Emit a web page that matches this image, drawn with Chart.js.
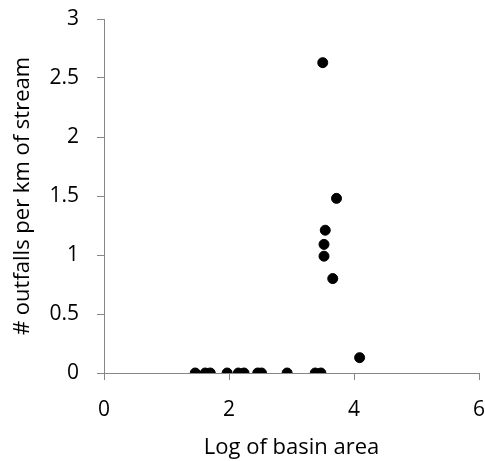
<!DOCTYPE html>
<html>
<head>
<meta charset="utf-8">
<script src="https://cdn.jsdelivr.net/npm/chart.js@4"></script>
<style>
  html, body { margin: 0; padding: 0; background: #fff; }
  #wrap { width: 485px; height: 461px; }
</style>
</head>
<body>
<div id="wrap"><canvas id="outfalls"></canvas></div>
<script>
// Log of basin area vs outfalls per km of stream
const logArea = [1.46, 1.62, 1.70, 1.97, 2.15, 2.24, 2.46, 2.52, 2.93, 3.38, 3.47,
                 3.50, 3.72, 3.54, 3.52, 3.52, 3.66, 4.09];
const outfallsPerKm = [0, 0, 0, 0, 0, 0, 0, 0, 0, 0, 0,
                       2.63, 1.48, 1.21, 1.09, 0.99, 0.80, 0.13];
const xTicks = [0, 2, 4, 6];
const yTicks = [0, 0.5, 1, 1.5, 2, 2.5, 3];

const axisGrey = "#868686";
const tickFont = { family: "'Open Sans', 'Noto Sans', sans-serif", size: 21 };
const titleFont = { family: "'Open Sans', 'Noto Sans', sans-serif", size: 22 };

new Chart(document.getElementById("outfalls"), {
  type: "scatter",
  data: {
    datasets: [{
      data: logArea.map((x, i) => ({ x: x, y: outfallsPerKm[i] })),
      backgroundColor: "#000",
      borderColor: "#000",
      pointRadius: 5,
      pointHoverRadius: 5
    }]
  },
  options: {
    responsive: true,
    maintainAspectRatio: false,
    animation: false,
    layout: { padding: { top: 19, right: 6 } },
    plugins: { legend: { display: false }, tooltip: { enabled: false } },
    scales: {
      x: {
        type: "linear",
        min: 0, max: 6,
        afterBuildTicks: s => { s.ticks = xTicks.map(v => ({ value: v })); },
        afterFit: s => { s.height = 88; s.paddingLeft = 0; s.paddingRight = 0; },
        grid: { drawOnChartArea: false, drawTicks: true, tickLength: 7, color: axisGrey },
        border: { color: axisGrey },
        ticks: { color: "#000", font: tickFont, padding: 17, callback: v => String(v) },
        title: { display: true, text: "Log of basin area", color: "#000", font: titleFont, padding: { top: 0, bottom: 0 } }
      },
      y: {
        type: "linear",
        min: 0, max: 3,
        afterBuildTicks: s => { s.ticks = yTicks.map(v => ({ value: v })); },
        afterFit: s => { s.width = 104; s.paddingTop = 0; s.paddingBottom = 0; },
        grid: { drawOnChartArea: false, drawTicks: true, tickLength: 7, color: axisGrey },
        border: { color: axisGrey },
        ticks: { color: "#000", font: tickFont, padding: 18, callback: v => String(v) },
        title: { display: true, text: "# outfalls per km of stream", color: "#000", font: titleFont, padding: { top: 10, bottom: 0 } }
      }
    }
  }
});
</script>
</body>
</html>
